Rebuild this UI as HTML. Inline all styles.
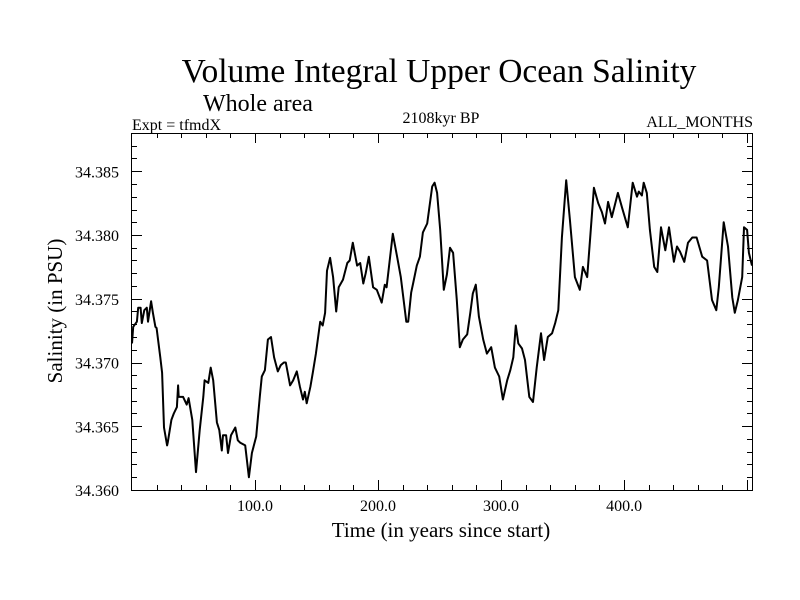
<!DOCTYPE html>
<html><head><meta charset="utf-8"><style>
body{margin:0;background:#fff}
svg{display:block;font-family:"Liberation Serif",serif}
</style></head><body>
<svg id="chart" width="800" height="600" viewBox="0 0 800 600">
<text x="439" y="82" font-size="33.5" text-anchor="middle">Volume Integral Upper Ocean Salinity</text>
<text x="203" y="111" font-size="24">Whole area</text>
<text x="132" y="130" font-size="16">Expt = tfmdX</text>
<text x="441" y="123" font-size="16" text-anchor="middle">2108kyr BP</text>
<text x="753" y="127" font-size="16" text-anchor="end">ALL_MONTHS</text>
<text x="441" y="537" font-size="21" text-anchor="middle">Time (in years since start)</text>
<text transform="translate(62,311) rotate(-90)" font-size="21" text-anchor="middle">Salinity (in PSU)</text>
<g id="axes"></g>
<path id="line" fill="none" stroke="#000" stroke-width="2" stroke-linejoin="round"/>
<rect x="131.5" y="133.5" width="621" height="357" fill="none" stroke="#000" stroke-width="1"/>
</svg>
<script>
const years=[0,1,4,5,7,8,10,12,13,15.5,17,19,20,23,24.5,26,28.5,29,32,34,36.5,37.5,38,41.5,44.5,46,49,52,55,58,59,62,64,66,69,71,73,74,76.5,78,80.5,84,86,88,92,95,97.5,101,104,105.5,108,110.5,113,115.5,118.5,121,123.5,125,128.5,131,134,136.5,139,140.5,142,145,147,149.5,153,155,157,158.5,161,163.5,166,168,171.5,175,177,179.5,183,185.5,188,190,192.5,196,199,203,205.5,207,212,215.5,218.5,223,224.5,227,228.5,231.5,234,236.5,240,244,246,248,250.5,253.5,256,258.5,261,264,266.5,269,272.5,275,277,279.5,282,285.5,288.5,292,295,298.5,301.5,305,307.5,310,312,314,317,319.5,323,326,329,332.5,335,338,341.5,344,346.5,349.5,353,356,360,364,366.5,370,372.5,375.5,379,382,384.5,387,390,395,398.5,403,407,410.5,412,414.5,416,418.5,421,424.5,427,430,433.5,436.5,440.5,443,445.5,449,452,455.5,459,463.5,467.5,471.5,475,477,481,484.5,488,490,492.5,496,497.5,500,501.5,504];
const salinity=[34.3715,34.3728,34.3732,34.3743,34.3743,34.3731,34.3741,34.3743,34.3732,34.3748,34.3739,34.3728,34.3727,34.3704,34.3692,34.3649,34.3635,34.3637,34.3655,34.3660,34.3665,34.3682,34.3673,34.3673,34.3667,34.3672,34.3655,34.3614,34.3647,34.3673,34.3686,34.3684,34.3696,34.3686,34.3653,34.3647,34.3631,34.3643,34.3643,34.3629,34.3643,34.3649,34.3639,34.3637,34.3635,34.3610,34.3629,34.3642,34.3674,34.3689,34.3694,34.3718,34.3720,34.3704,34.3693,34.3698,34.3700,34.3700,34.3682,34.3686,34.3693,34.3681,34.3671,34.3677,34.3668,34.3681,34.3692,34.3707,34.3732,34.3729,34.3739,34.3772,34.3782,34.3767,34.3740,34.3759,34.3765,34.3778,34.3780,34.3794,34.3776,34.3778,34.3762,34.3770,34.3783,34.3759,34.3757,34.3747,34.3761,34.3759,34.3801,34.3783,34.3767,34.3732,34.3732,34.3755,34.3762,34.3776,34.3783,34.3802,34.3809,34.3838,34.3841,34.3833,34.3804,34.3757,34.3769,34.3790,34.3786,34.3749,34.3712,34.3718,34.3722,34.3739,34.3754,34.3761,34.3736,34.3718,34.3707,34.3712,34.3696,34.3689,34.3671,34.3686,34.3694,34.3704,34.3729,34.3715,34.3711,34.3702,34.3673,34.3669,34.3696,34.3723,34.3702,34.3720,34.3723,34.3731,34.3741,34.3798,34.3843,34.3812,34.3767,34.3757,34.3775,34.3767,34.3798,34.3837,34.3825,34.3818,34.3809,34.3826,34.3814,34.3833,34.3821,34.3806,34.3841,34.3830,34.3834,34.3831,34.3841,34.3833,34.3804,34.3775,34.3771,34.3806,34.3788,34.3806,34.3779,34.3791,34.3787,34.3779,34.3794,34.3798,34.3798,34.3783,34.3780,34.3749,34.3741,34.3759,34.3810,34.3791,34.3751,34.3739,34.3749,34.3767,34.3806,34.3804,34.3786,34.3776];
const xTicks=[100,200,300,400];
const xTickLabels=["100.0","200.0","300.0","400.0"];
const yTicks=[34.360,34.365,34.370,34.375,34.380,34.385];
const yTickLabels=["34.360","34.365","34.370","34.375","34.380","34.385"];
const X0=132,X1=752,Y0=490,Y1=133;
const xMin=0,xMax=504,yMin=34.360,yMax=34.388;
function sx(v){return X0+(v-xMin)/(xMax-xMin)*(X1-X0);}
function sy(v){return Y0-(v-yMin)/(yMax-yMin)*(Y0-Y1);}
const NS="http://www.w3.org/2000/svg";
const axes=document.getElementById('axes');
function ln(x1,y1,x2,y2,name){const l=document.createElementNS(NS,'line');l.setAttribute('x1',x1);l.setAttribute('y1',y1);l.setAttribute('x2',x2);l.setAttribute('y2',y2);l.setAttribute('stroke','#000');l.setAttribute('stroke-width','1');


axes.appendChild(l);}
function tx(x,y,s,anchor,name){const t=document.createElementNS(NS,'text');t.setAttribute('x',x);t.setAttribute('y',y);t.setAttribute('font-size','16');t.setAttribute('text-anchor',anchor);t.textContent=s;


axes.appendChild(t);}
for(let v=20;v<xMax;v+=20){const x=Math.round(sx(v))+0.5;const major=v%100===0;const L=major?10:5;
ln(x,Y0,x,Y0-L,'x-tick');ln(x,Y1,x,Y1+L,'x-tick-top');}
for(let i=0;i<=28;i++){const v=yMin+i*0.001;const y=Math.round(sy(v))+0.5;const major=i%5===0;const L=major?10:5;
ln(X0,y,X0+L,y,'y-tick');ln(X1,y,X1-L,y,'y-tick-right');}
xTicks.forEach((v,i)=>tx(sx(v),511,xTickLabels[i],'middle','x-tick-label'));
yTicks.forEach((v,i)=>tx(119,sy(v)+6,yTickLabels[i],'end','y-tick-label'));
document.getElementById('line').setAttribute('d',years.map((y,i)=>(i?'L':'M')+sx(y).toFixed(1)+','+sy(salinity[i]).toFixed(1)).join(''));
</script>
</body></html>
